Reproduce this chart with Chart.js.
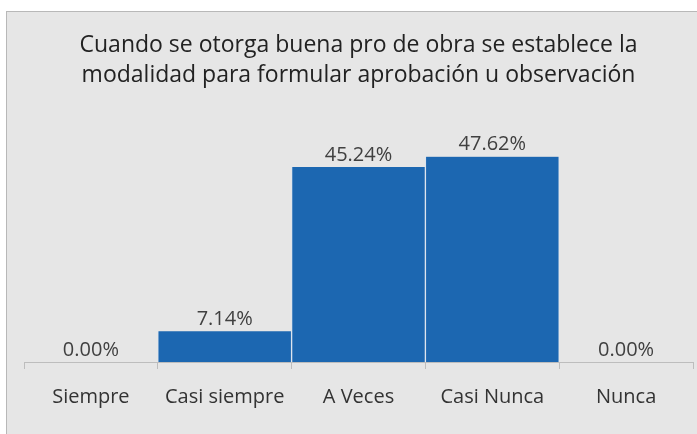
<!DOCTYPE html>
<html>
<head>
<meta charset="utf-8">
<script src="https://cdn.jsdelivr.net/npm/chart.js@4"></script>
<style>
    body { margin: 0; background: #ffffff; }
    #box {
        position: absolute; left: 6px; top: 11px;
        width: 690px; height: 425px;
        border: 1px solid #b8b8b8; background: #e6e6e6;
    }
    canvas { display: block; }
</style>
</head>
<body>
<div id="box"><canvas id="chart" width="690" height="425"></canvas></div>
<script>
// =================== data =======================
const categories = ['Siempre', 'Casi siempre', 'A Veces', 'Casi Nunca', 'Nunca'];
const percentages = [0.00, 7.14, 45.24, 47.62, 0.00];
const chartTitle = [
    'Cuando se otorga buena pro de obra se establece la',
    'modalidad para formular aprobación u observación'
];

// draws the % label above every bar
const barLabels = {
    id: 'barLabels',
    afterDatasetsDraw(chart) {
        const c = chart.ctx;
        const meta = chart.getDatasetMeta(0);
        c.save();
        c.font = '20px "Open Sans", sans-serif';
        c.fillStyle = '#404040';
        c.textAlign = 'center';
        c.textBaseline = 'bottom';
        meta.data.forEach((bar, i) => {
            c.fillText(percentages[i].toFixed(2) + '%', bar.x, bar.y - 2);
        });
        c.restore();
    }
};

function buildChart() {
    const ctx = document.getElementById('chart');
    const myChart = new Chart(ctx, {
        type: 'bar',
        data: {
            labels: categories,
            datasets: [{
                data: percentages,
                backgroundColor: '#1c67b1',
                borderColor: '#dce4ee',
                borderWidth: {left: 1, right: 1, top: 0, bottom: 0},
                barPercentage: 1,
                categoryPercentage: 1
            }]
        },
        options: {
            responsive: false,
            animation: false,
            layout: {
                padding: {left: 17, right: 4, top: 8, bottom: 12}
            },
            plugins: {
                legend: { display: false },
                tooltip: { enabled: false },
                title: {
                    display: true,
                    text: chartTitle,
                    color: '#222222',
                    font: { family: '"Open Sans", sans-serif', size: 23, weight: 'normal', lineHeight: 1.3 },
                    padding: { top: 11, bottom: 34 }
                }
            },
            scales: {
                y: {
                    display: false,
                    min: 0,
                    max: 55
                },
                x: {
                    border: { color: '#bdbdbd', width: 1 },
                    grid: {
                        offset: true,
                        drawOnChartArea: false,
                        tickLength: 7,
                        tickColor: '#bdbdbd'
                    },
                    ticks: {
                        color: '#333333',
                        padding: 16,
                        font: { family: '"Open Sans", sans-serif', size: 20 }
                    }
                }
            }
        },
        plugins: [barLabels]
    });
    return myChart
}

buildChart();
</script>
</body>
</html>
